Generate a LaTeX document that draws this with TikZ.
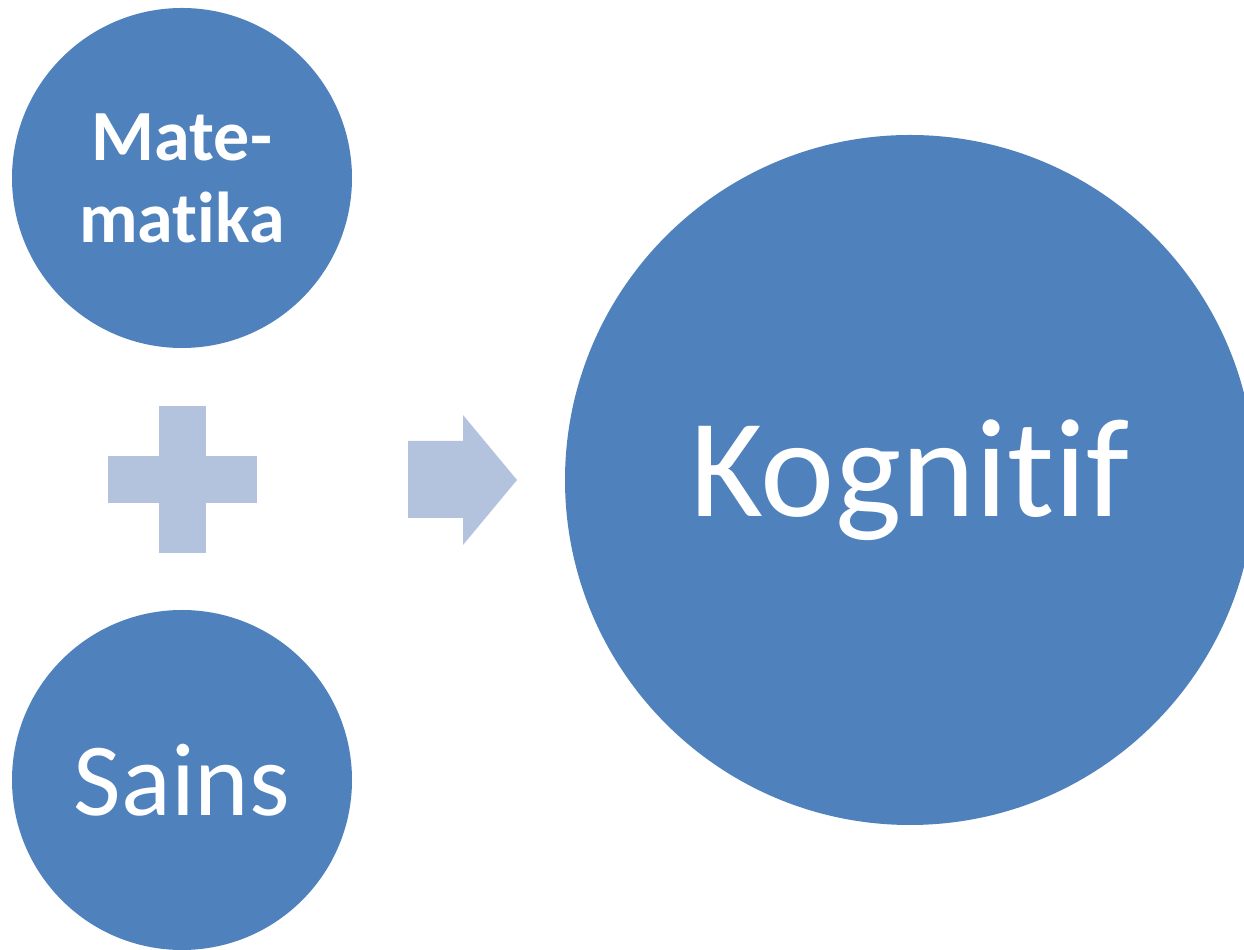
\documentclass[tikz,border=0pt]{standalone}
\usepackage{fontspec}
\setmainfont[Ligatures={NoCommon,NoRare,NoContextual}]{Carlito}
\definecolor{bluefill}{HTML}{4F81BD}
\definecolor{lightfill}{HTML}{B3C3DD}

\begin{document}
\begin{tikzpicture}[bubble/.style={circle, fill=bluefill, text=white, inner sep=0pt, align=center}]
		\useasboundingbox (0,0) rectangle (12.44,9.5) ;
		\clip (0,0) rectangle (12.44,9.5) ;

		\node[bubble, minimum size=3.4cm, font=\bfseries\fontsize{20.5}{23.3}\selectfont] (mat) at (1.82,7.72) {Mate-\\matika} ;
		\node[bubble, minimum size=3.4cm, font=\fontsize{29.5}{35}\selectfont] (sains) at (1.82,1.70) {Sains} ;
		\node[bubble, minimum size=6.9cm, font=\fontsize{40}{48}\selectfont] (kog) at (9.10,4.70) {Kognitif} ;

		\fill[lightfill] (1.59,3.97) rectangle (2.06,5.44) ;
		\fill[lightfill] (1.08,4.47) rectangle (2.57,4.94) ;

		\fill[lightfill] (4.08,4.32) -- (4.63,4.32) -- (4.63,4.05) -- (5.17,4.70)
			-- (4.63,5.35) -- (4.63,5.09) -- (4.08,5.09) -- cycle ;
	\end{tikzpicture}
\end{document}
